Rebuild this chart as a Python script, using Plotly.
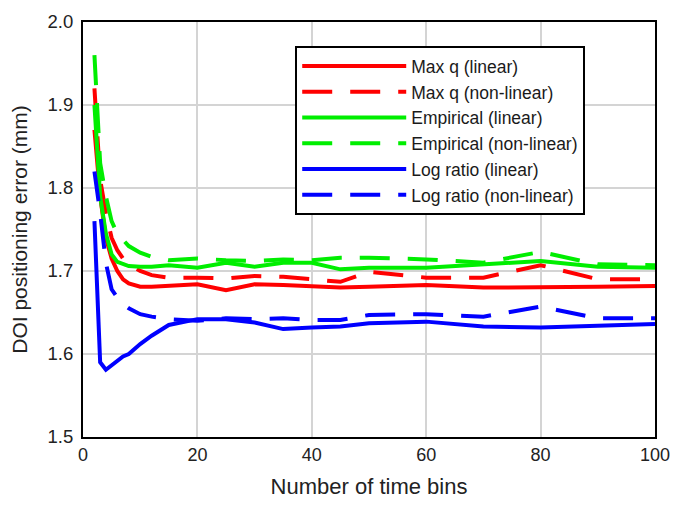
import plotly.graph_objects as go

bins = [2, 3, 4, 5, 6, 7, 8, 10, 12, 15, 20, 25, 30, 35, 40, 45, 50, 60, 70, 80, 90, 100]

maxq_lin = [1.87, 1.79, 1.74, 1.715, 1.700, 1.690, 1.685, 1.681, 1.681, 1.682, 1.684, 1.677, 1.684,
            1.683, 1.681, 1.680, 1.681, 1.683, 1.680, 1.680, 1.681, 1.682]
maxq_nl = [1.92, 1.81, 1.77, 1.74, 1.725, 1.715, 1.708, 1.700, 1.695, 1.692, 1.692, 1.691, 1.694,
           1.693, 1.690, 1.687, 1.699, 1.692, 1.692, 1.707, 1.690, 1.690]
emp_lin = [1.90, 1.79, 1.745, 1.720, 1.711, 1.708, 1.706, 1.705, 1.705, 1.707, 1.704, 1.710, 1.705,
           1.710, 1.710, 1.702, 1.704, 1.704, 1.708, 1.712, 1.705, 1.704]
emp_nl = [1.96, 1.83, 1.79, 1.76, 1.745, 1.737, 1.730, 1.722, 1.717, 1.713, 1.715, 1.713, 1.712,
          1.714, 1.713, 1.716, 1.716, 1.714, 1.710, 1.723, 1.708, 1.707]
log_lin = [1.76, 1.59, 1.581, 1.586, 1.591, 1.597, 1.600, 1.612, 1.622, 1.635, 1.642, 1.642, 1.638,
           1.630, 1.632, 1.633, 1.637, 1.639, 1.633, 1.632, 1.634, 1.636]
log_nl = [1.82, 1.77, 1.71, 1.678, 1.668, 1.660, 1.655, 1.648, 1.645, 1.642, 1.640, 1.643, 1.642,
          1.643, 1.641, 1.641, 1.647, 1.648, 1.645, 1.657, 1.643, 1.643]

series = [
    ("Max q (linear)", maxq_lin, "#ff0000", "solid"),
    ("Max q (non-linear)", maxq_nl, "#ff0000", "30px,18px"),
    ("Empirical (linear)", emp_lin, "#00ee00", "solid"),
    ("Empirical (non-linear)", emp_nl, "#00ee00", "30px,18px"),
    ("Log ratio (linear)", log_lin, "#0000ff", "solid"),
    ("Log ratio (non-linear)", log_nl, "#0000ff", "30px,18px"),
]

fig = go.Figure()
for name, vals, color, dash in series:
    fig.add_trace(go.Scatter(x=bins, y=vals, mode="lines", name=name,
                             line=dict(color=color, width=4, dash=dash)))

font = "Liberation Sans, Arial, sans-serif"
fig.update_layout(
    width=686, height=510,
    margin=dict(l=75, r=39, t=14, b=81, autoexpand=False),
    paper_bgcolor="white", plot_bgcolor="white",
    font=dict(family=font, size=18, color="#222222"),
    showlegend=True,
    legend=dict(x=0.371, y=0.942, xanchor="left", yanchor="top",
                bgcolor="white", bordercolor="black", borderwidth=2,
                font=dict(family=font, size=17.5, color="#1a1a1a"),
                itemwidth=104, tracegroupgap=0),
)
fig.update_xaxes(range=[0, 100], dtick=20, tick0=0, showgrid=True, gridcolor="#d4d4d4", gridwidth=2,
                 showline=True, linecolor="black", linewidth=2, mirror=True, zeroline=False,
                 automargin=False, ticks="", tickfont=dict(family=font, size=18),
                 title=dict(text="Number of time bins", standoff=15,
                            font=dict(family=font, size=22, color="#222222")))
fig.update_yaxes(range=[1.5, 2.0], dtick=0.1, tick0=1.5, tickformat=".1f", showgrid=True,
                 gridcolor="#d4d4d4", gridwidth=2,
                 showline=True, linecolor="black", linewidth=2, mirror=True, zeroline=False,
                 automargin=False, ticks="", tickfont=dict(family=font, size=18.5),
                 ticklabelstandoff=4,
                 title=dict(text="DOI positioning error (mm)", standoff=14,
                            font=dict(family=font, size=21, color="#222222")))

fig.write_html("out.html")
